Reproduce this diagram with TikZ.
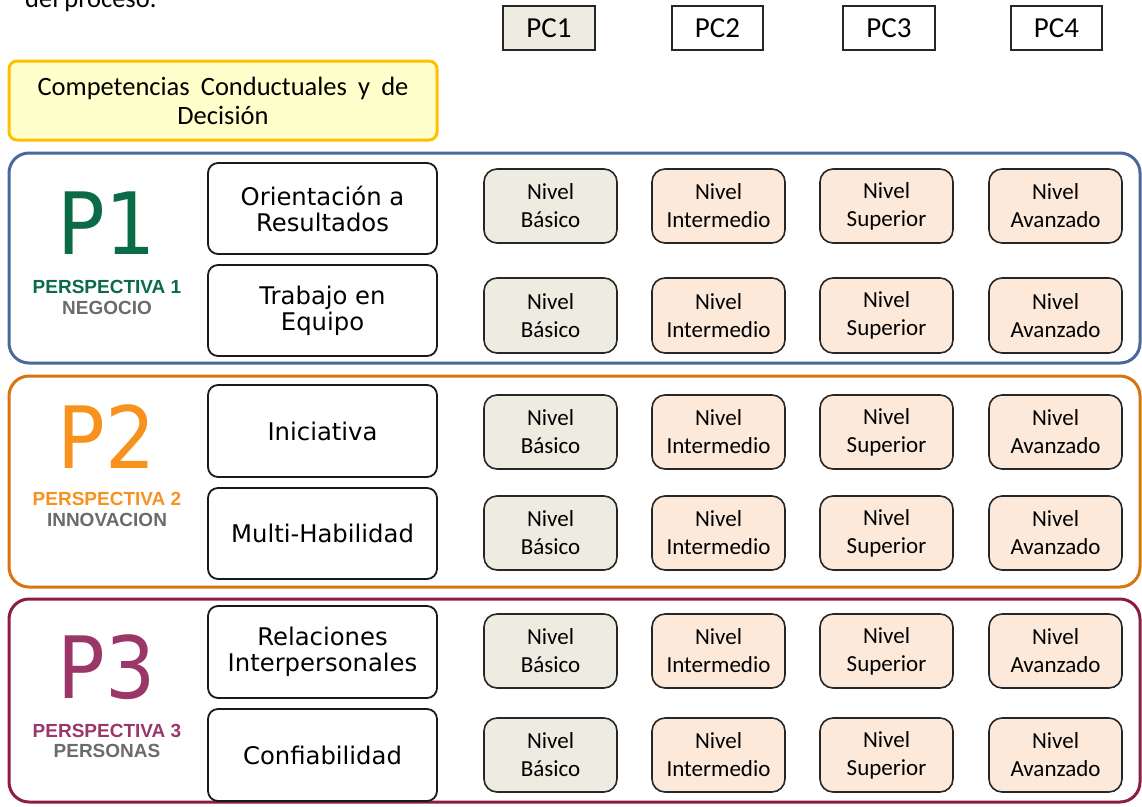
\documentclass[tikz,border=0pt]{standalone}
\usepackage{fontspec}
\setmainfont{Carlito}
\newfontfamily\compfont{DejaVu Sans}
\newfontfamily\bigpfont[FakeStretch=0.92]{DejaVu Sans}
\newfontfamily\labfont{Liberation Sans}

\definecolor{pcgrey}{HTML}{EEECE1}
\definecolor{peach}{HTML}{FDE9D9}
\definecolor{paleyellow}{HTML}{FFFFCC}
\definecolor{gold}{HTML}{FFC000}
\definecolor{frameblue}{HTML}{48699A}
\definecolor{frameorange}{HTML}{D9730D}
\definecolor{framemaroon}{HTML}{8C1D40}
\definecolor{pgreen}{HTML}{0B6B47}
\definecolor{porange}{HTML}{F7921E}
\definecolor{pmaroon}{HTML}{9B3768}
\definecolor{labgrey}{HTML}{6B6B6B}

% box given by its corners (x1,y1)-(x2,y2)
\newcommand\boxnode[7]{%
  \node[#1, minimum width={(#5-#3)*1pt}, minimum height={(#6-#4)*1pt}]
    (#2) at ({(#3+#5)/2},{(#4+#6)/2}) {#7};}

\tikzset{
  frame/.style={draw, line width=3pt, rounded corners=20pt, inner sep=0pt},
  titlebox/.style={draw=gold, fill=paleyellow, line width=3pt, rounded corners=8pt,
    inner sep=0pt, align=center, font=\fontsize{26.5}{29}\selectfont},
  pcbox/.style={draw=black!85, line width=1.3pt, inner sep=0pt,
    font=\fontsize{29}{30}\selectfont},
  compbox/.style={draw=black!90, fill=white, line width=1.8pt, rounded corners=10pt,
    inner sep=0pt, align=center, font=\compfont\fontsize{24.3}{26}\selectfont},
  nivbox/.style={draw=black!85, line width=1.6pt, rounded corners=13pt,
    inner sep=0pt, align=center, font=\fontsize{23}{28}\selectfont},
  basico/.style={nivbox, fill=pcgrey},
  upper/.style={nivbox, fill=peach},
  bigp/.style={inner sep=0pt, font=\bigpfont\fontsize{86}{86}\selectfont},
  perslab/.style={inner sep=0pt, font=\labfont\bfseries\fontsize{19}{19}\selectfont},
}

\begin{document}
\begin{tikzpicture}[x=1pt,y=-1pt]
\useasboundingbox (0,0) rectangle (1142,806);

% caption line running off the top edge
\node[anchor=base west, inner sep=0pt, font=\fontsize{26.5}{29}\selectfont] (caption) at (25,7) {del proceso.};

% heading box and level columns
\boxnode{titlebox}{title}{9}{61}{437}{140}{\makebox[371pt][s]{Competencias Conductuales y de}\\Decisión}
\boxnode{pcbox, fill=pcgrey}{pc1}{503}{6}{595}{50}{PC1}
\boxnode{pcbox, fill=white}{pc2}{672}{6}{763}{50}{PC2}
\boxnode{pcbox, fill=white}{pc3}{843}{6}{935}{50}{PC3}
\boxnode{pcbox, fill=white}{pc4}{1011}{6}{1102}{50}{PC4}

% perspective frames
\boxnode{frame, draw=frameblue}{fP1}{9}{153}{1140}{363}{}
\boxnode{frame, draw=frameorange}{fP2}{9}{376}{1140}{587}{}
\boxnode{frame, draw=framemaroon}{fP3}{9}{599}{1140}{802}{}

% perspective labels
\node[bigp, text=pgreen] (p1) at (107,223) {P1};
\node[perslab, text=pgreen] (p1a) at (107,287) {PERSPECTIVA 1};
\node[perslab, text=labgrey] (p1b) at (107,308) {NEGOCIO};

\node[bigp, text=porange] (p2) at (107,437) {P2};
\node[perslab, text=porange] (p2a) at (107,499) {PERSPECTIVA 2};
\node[perslab, text=labgrey] (p2b) at (107,520) {INNOVACION};

\node[bigp, text=pmaroon] (p3) at (107,667) {P3};
\node[perslab, text=pmaroon] (p3a) at (107,731) {PERSPECTIVA 3};
\node[perslab, text=labgrey] (p3b) at (107,751) {PERSONAS};

% competences
\boxnode{compbox}{c1}{208}{163}{437}{254}{Orientación a\\Resultados}
\boxnode{compbox}{c2}{208}{265}{437}{356}{Trabajo en\\Equipo}
\boxnode{compbox}{c3}{208}{385}{437}{477}{Iniciativa}
\boxnode{compbox}{c4}{208}{488}{437}{579}{Multi-Habilidad}
\boxnode{compbox}{c5}{208}{606}{437}{698}{Relaciones\\Interpersonales}
\boxnode{compbox}{c6}{208}{709}{437}{801}{Confiabilidad}

% level grid, one row per competence
\foreach \r/\ya/\yb in {1/169/243, 2/278/353, 3/395/469, 4/496/570, 5/614/688, 6/718/792} {
  \boxnode{basico}{n\r a}{484}{\ya}{617}{\yb}{Nivel\\Básico}
  \boxnode{upper}{n\r b}{652}{\ya}{785}{\yb}{Nivel\\Intermedio}
  \boxnode{upper}{n\r c}{820}{\ya}{953}{\yb}{Nivel\\Superior}
  \boxnode{upper}{n\r d}{989}{\ya}{1122}{\yb}{Nivel\\Avanzado}
}
\end{tikzpicture}
\end{document}
